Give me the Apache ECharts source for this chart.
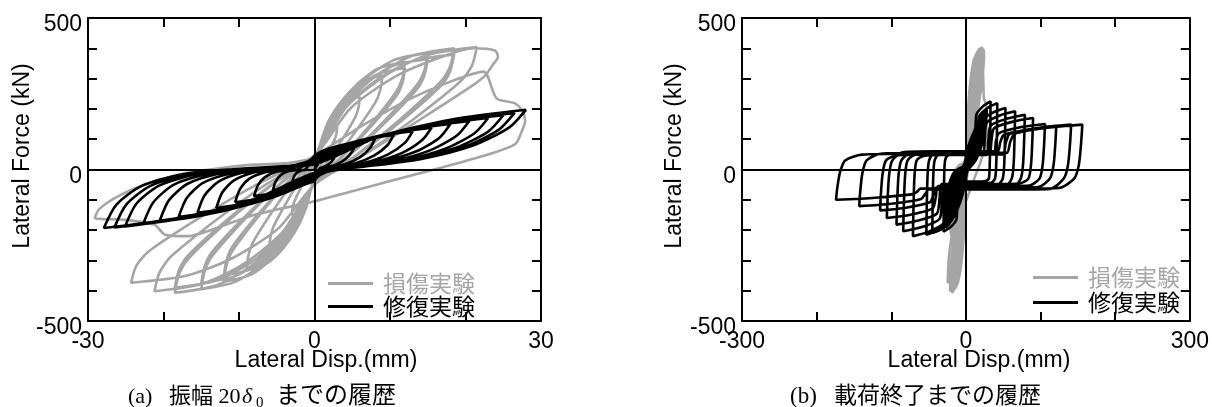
<!DOCTYPE html>
<html><head><meta charset="utf-8">
<script src="https://cdn.jsdelivr.net/npm/echarts@6/dist/echarts.min.js"></script>
<style>html,body{margin:0;padding:0;background:#fff}#c{width:1212px;height:407px}</style>
</head><body><div id="c"></div>
<script>
// ---- data (lateral disp mm, lateral force kN) ----
const seriesNames = ['損傷実験', '修復実験'];
const xLabelsA = [-30, 0, 30];
const xLabelsB = [-300, 0, 300];
const yLabels = [-500, 0, 500];

// 損傷実験 (damage test, up to 20δ0)
const damage = [
[0,0],
[0.6,63],[1.35,105],[2.1,130],[3,140],[2.91,119],[2.7,101],[1.8,56],[0.9,17],[0,-17],
[-0.6,-77],[-1.35,-117],[-2.1,-141],[-3,-150],[-2.91,-128],[-2.7,-108],[-1.8,-60],[-0.9,-18],[0,18],
[1.2,118],[2.7,185],[4.2,225],[6,240],[5.82,204],[5.4,173],[3.6,96],[1.8,29],[0,-29],
[-1.2,-133],[-2.7,-202],[-4.2,-244],[-6,-260],[-5.82,-221],[-5.4,-187],[-3.6,-104],[-1.8,-31],[0,31],
[1.8,157],[4.05,240],[6.3,291],[9,310],[8.73,264],[8.1,223],[5.4,124],[2.7,37],[0,-37],
[-1.8,-169],[-4.05,-257],[-6.3,-310],[-9,-330],[-8.73,-281],[-8.1,-238],[-5.4,-132],[-2.7,-40],[0,40],
[2.4,182],[5.4,276],[8.4,333],[12,355],[11.64,302],[10.8,256],[7.2,142],[3.6,43],[0,-43],
[-2.4,-190],[-5.4,-288],[-8.4,-347],[-12,-370],[-11.64,-315],[-10.8,-266],[-7.2,-148],[-3.6,-44],[0,44],
[2.4,175],[5.4,262],[8.4,315],[12,335],[11.64,285],[10.8,241],[7.2,134],[3.6,40],[0,-45],
[-2.4,-182],[-5.4,-274],[-8.4,-329],[-12,-350],[-11.64,-298],[-10.8,-252],[-7.2,-140],[-3.6,-42],[0,44],
[3,198],[6.75,300],[10.5,361],[15,385],[14.55,327],[13.5,277],[9,154],[4.5,46],[0,-46],
[-3,-203],[-6.75,-308],[-10.5,-371],[-15,-395],[-14.55,-336],[-13.5,-284],[-9,-158],[-4.5,-47],[0,47],
[3,190],[6.75,286],[10.5,343],[15,365],[14.55,310],[13.5,263],[9,146],[4.5,44],[0,-47],
[-3,-195],[-6.75,-293],[-10.5,-352],[-15,-375],[-14.55,-319],[-13.5,-270],[-9,-150],[-4.5,-45],[0,47],
[3.7,206],[8.33,312],[12.95,375],[18.5,400],[17.95,340],[16.65,288],[11.1,160],[5.55,48],[0,-48],
[-3.7,-210],[-8.33,-317],[-12.95,-382],[-18.5,-407],[-17.95,-346],[-16.65,-293],[-11.1,-163],[-5.55,-49],[0,48],
[3.7,197],[8.33,297],[12.95,357],[18.5,380],[17.95,323],[16.65,274],[11.1,152],[5.55,46],[0,-48],
[-3.7,-202],[-8.33,-305],[-12.95,-366],[-18.5,-390],[-17.95,-332],[-16.65,-281],[-11.1,-156],[-5.55,-47],[0,48],
[4.3,208],[9.68,315],[15.05,379],[21.5,404],[20.86,343],[19.35,291],[12.9,162],[6.45,49],[0,-48],
[-4.24,-207],[-9.54,-314],[-14.84,-377],[-21.2,-402],[-20.56,-342],[-19.08,-289],[-12.72,-161],[-6.36,-48],[0,45],
[4.8,203],[10.8,308],[16.8,371],[21,400],[23.9,393],[24.3,372],[23.6,345],[22.6,310],[20.5,270],[14,165],[7,55],[0,-50],
[-4.86,-196],[-10.9,-293],[-17,-351],[-24.3,-374],[-23.6,-318],[-21.9,-269],[-14.6,-150],[-7.3,-45],[0,45],
[6,140],[12,225],[18,290],[22.4,323],[24.1,235],[26.5,219],[27.5,195],[27.9,160],[27.6,135],[26.5,82],[19.9,27],[13.2,-17],[6.6,-61],[0,-105],
[-7.9,-149],[-12.3,-187],[-16.8,-220],[-19.8,-215],[-21.2,-182],[-25.6,-165],[-29.1,-160],[-28.5,-130],[-25.6,-83],[-21.2,-39],[-16.8,-11],[-12.3,5],[-7.9,16],[-3.5,21],[0,38]
];

// 修復実験 (repair test) cycles up to 20δ0
const repair20 = [
[0,0],[0.9,32],[1.95,53],[3,65],[2.76,46],[2.25,26],[1.5,11],[0.66,3],[0,-38],
[-0.9,-44],[-1.95,-48],[-3,-50],[-2.82,-30],[-2.46,-14],[-1.86,-4],[-1.2,0],[0,45],
[1.65,67],[3.58,80],[5.5,88],[5.06,62],[4.13,35],[2.75,15],[1.21,4],[0,-36],
[-1.65,-52],[-3.58,-62],[-5.5,-68],[-5.17,-41],[-4.51,-19],[-3.41,-5],[-2.2,0],[0,42],
[2.4,72],[5.2,90],[8,101],[7.36,71],[6,40],[4,17],[1.76,4],[0,-33],
[-2.4,-61],[-5.2,-78],[-8,-88],[-7.52,-53],[-6.56,-25],[-4.96,-7],[-3.2,0],[0,38],
[3.15,76],[6.83,100],[10.5,114],[9.66,80],[7.88,46],[5.25,19],[2.31,5],[0,-30],
[-3.15,-69],[-6.83,-94],[-10.5,-108],[-9.87,-65],[-8.61,-30],[-6.51,-9],[-4.2,0],[0,35],
[3.9,81],[8.45,110],[13,126],[11.96,88],[9.75,50],[6.5,21],[2.86,5],[0,-27],
[-3.9,-77],[-8.45,-109],[-13,-127],[-12.22,-76],[-10.66,-36],[-8.06,-10],[-5.2,0],[0,32],
[4.65,85],[10.08,119],[15.5,138],[14.26,97],[11.63,55],[7.75,24],[3.41,6],[0,-24],
[-4.65,-84],[-10.08,-122],[-15.5,-143],[-14.57,-86],[-12.71,-40],[-9.61,-11],[-6.2,0],[0,29],
[5.4,90],[11.7,128],[18,150],[16.56,105],[13.5,60],[9,26],[3.96,6],[0,-21],
[-5.4,-89],[-11.7,-133],[-18,-157],[-16.92,-94],[-14.76,-44],[-11.16,-13],[-7.2,0],[0,26],
[6.15,93],[13.33,136],[20.5,160],[18.86,112],[15.38,64],[10.25,27],[4.51,6],[0,-19],
[-6.15,-94],[-13.33,-142],[-20.5,-169],[-19.27,-101],[-16.81,-47],[-12.71,-14],[-8.2,0],[0,23],
[6.9,97],[14.95,144],[23,170],[21.16,119],[17.25,68],[11.5,29],[5.06,7],[0,-17],
[-6.81,-99],[-14.76,-151],[-22.7,-180],[-21.34,-108],[-18.61,-50],[-14.07,-14],[-9.08,0],[0,21],
[7.5,100],[16.25,151],[25,179],[23,125],[18.75,72],[12.5,30],[5.5,7],[0,-15],
[-7.53,-102],[-16.32,-157],[-25.1,-188],[-23.59,-113],[-20.58,-53],[-15.56,-15],[-10.04,0],[0,19],
[7.95,103],[17.23,157],[26.5,187],[24.38,131],[19.88,75],[13.25,32],[5.83,8],[0,-13],
[-7.95,-102],[-17.23,-159],[-26.5,-191],[-24.91,-115],[-21.73,-54],[-16.43,-15],[-10.6,0],[0,17],
[8.4,107],[18.2,165],[28,197],[25.76,138],[21,79],[14,34],[6.16,8],[0,-11],
[-8.37,-102],[-18.14,-160],[-27.9,-193],[-26.23,-116],[-22.88,-54],[-17.3,-15],[-11.16,0],[0,16]
];

// 修復実験 later cycles until end of loading
const repairLarge = [
[11.6,50],[12.5,95],[13.9,180],[23.1,209],[33,225],[32.7,135],[32,22],[30.7,-30],[26.4,-38],[13.2,-40],[0,-40],
[-10.5,-40],[-11.4,-95],[-12.6,-164],[-21,-191],[-30,-205],[-29.7,-123],[-29.1,-20],[-27.9,30],[-24,47],[-12,50],[0,50],
[14.7,50],[16,95],[17.6,175],[29.4,204],[42,219],[41.6,131],[40.7,22],[39,-30],[33.6,-44],[16.8,-46],[0,-46],
[-15.8,-46],[-17.1,-95],[-18.9,-168],[-31.5,-195],[-45,-210],[-44.6,-126],[-43.7,-21],[-41.9,30],[-36,51],[-18,54],[0,54],
[18.6,54],[20.1,95],[22.3,162],[37.1,189],[53,203],[52.5,122],[51.4,20],[49.3,-30],[42.4,-50],[21.2,-52],[0,-52],
[-18.6,-52],[-20.1,-95],[-22.3,-172],[-37.1,-200],[-53,-215],[-52.5,-129],[-51.4,-21],[-49.3,30],[-42.4,55],[-21.2,58],[0,58],
[23.1,58],[25.1,95],[27.7,154],[46.2,179],[66,192],[65.3,115],[64,19],[61.4,-30],[52.8,-56],[26.4,-58],[0,-58],
[-24.9,-58],[-27,-95],[-29.8,-176],[-49.7,-205],[-71,-220],[-70.3,-132],[-68.9,-22],[-66,30],[-56.8,45],[-28.4,48],[0,48],
[27.7,48],[30,95],[33.2,145],[55.3,168],[79,181],[78.2,109],[76.6,18],[73.5,-30],[63.2,-60],[31.6,-62],[0,-62],
[-29.4,-62],[-31.9,-95],[-35.3,-163],[-58.8,-190],[-84,-204],[-83.2,-122],[-81.5,-20],[-78.1,30],[-67.2,50],[-33.6,53],[0,53],
[31.5,53],[34.2,95],[37.8,136],[63,158],[90,170],[89.1,102],[87.3,17],[83.7,-30],[72,-46],[36,-48],[0,-48],
[-32.6,-48],[-35.3,-95],[-39,-146],[-65.1,-169],[-93,-182],[-92.1,-109],[-90.2,-18],[-86.5,30],[-74.4,54],[-37.2,57],[0,57],
[37.1,57],[40.3,95],[44.5,120],[74.2,140],[106,150],[104.9,90],[102.8,15],[98.6,-30],[84.8,-53],[42.4,-55],[0,-55],
[-37.1,-55],[-40.3,-90],[-44.5,-128],[-74.2,-149],[-106,-160],[-104.9,-96],[-102.8,-16],[-98.6,30],[-84.8,57],[-42.4,60],[0,60],
[42.4,60],[46,90],[50.8,114],[84.7,132],[121,142],[119.8,85],[117.4,14],[112.5,-30],[96.8,-58],[48.4,-60],[0,-60],
[-40.3,-60],[-43.7,-85],[-48.3,-108],[-80.5,-126],[-115,-135],[-113.9,-81],[-111.6,-14],[-107,30],[-92,47],[-46,50],[0,50],
[49.4,50],[53.6,90],[59.2,118],[98.7,138],[141,148],[139.6,89],[136.8,15],[131.1,-30],[112.8,-64],[56.4,-66],[0,-66],
[-50,-66],[-54.3,-80],[-60,-97],[-100.1,-113],[-143,-121],[-141.6,-73],[-138.7,-12],[-133,30],[-114.4,52],[-57.2,55],[0,55],
[54.6,55],[59.3,90],[65.5,118],[109.2,138],[156,148],[154.4,89],[151.3,15],[145,-30],[124.8,-61],[62.4,-63],[0,-63],
[-60.9,-63],[-66.1,-75],[-73.1,-82],[-121.8,-93],[-174,-100],[-172.3,-60],[-168.8,-10],[-161.8,30],[-139.2,49],[-69.6,52],[0,52]
];

// ---- chart ----
const GRAY = '#a5a5a5';
const SANS = "'Liberation Sans', Arial, sans-serif";
const SERIF = "'Liberation Serif', 'Noto Sans CJK JP', serif";
const CJK = "'Noto Sans CJK JP', sans-serif";
const FS = 23;

function xAxes(gridIndex, min, max, interval, labels) {
  const base = {type:'value', gridIndex, min, max, interval, splitLine:{show:false},
    axisLine:{show:true, onZero:false, lineStyle:{color:'#000', width:2}},
    axisTick:{show:true, inside:true, length:9, lineStyle:{color:'#000', width:2}}};
  return [
    Object.assign({}, base, {position:'bottom', axisLabel:{show:true, color:'#000', fontSize:FS, fontFamily:SANS, margin:9,
      formatter: v => labels.includes(v) ? String(v) : ''}}),
    Object.assign({}, base, {position:'top', axisLabel:{show:false}})
  ];
}
function yAxes(gridIndex, min, max, interval, labels) {
  const base = {type:'value', gridIndex, min, max, interval, splitLine:{show:false},
    axisLine:{show:true, onZero:false, lineStyle:{color:'#000', width:2}},
    axisTick:{show:true, inside:true, length:9, lineStyle:{color:'#000', width:2}}};
  return [
    Object.assign({}, base, {position:'left', axisLabel:{show:true, color:'#000', fontSize:FS, fontFamily:SANS, margin:6,
      verticalAlign:'top', lineHeight:14, formatter: v => labels.includes(v) ? String(v) : ''}}),
    Object.assign({}, base, {position:'right', axisLabel:{show:false}})
  ];
}
function lineSeries(name, color, data, xi, yi, withZero) {
  const s = {name, type:'line', data, xAxisIndex:xi, yAxisIndex:yi, showSymbol:false, symbol:'none',
    smooth:0.25, lineStyle:{color, width:2.6}, itemStyle:{color}, animation:false, silent:true};
  if (withZero) {
    s.markLine = {silent:true, symbol:['none','none'], label:{show:false}, animation:false,
      lineStyle:{color:'#000', width:2, type:'solid'}, data:[{xAxis:0},{yAxis:0}]};
  }
  return s;
}
function legend(left, top, gap) {
  return {left, top, orient:'vertical', icon:'rect', itemWidth:45, itemHeight:3, itemGap:gap, selectedMode:false,
    textStyle:{fontSize:FS, fontFamily:CJK, lineHeight:22, padding:[0,0,0,5]},
    data:[{name:seriesNames[0], textStyle:{color:GRAY}}, {name:seriesNames[1], textStyle:{color:'#000'}}]};
}
function txt(x, y, text, opts) {
  return Object.assign({type:'text', x, y, silent:true,
    style:Object.assign({text, fill:'#000', fontSize:FS, fontFamily:SANS, align:'center', verticalAlign:'middle'}, opts && opts.style)},
    opts && opts.el);
}

const chart = echarts.init(document.getElementById('c'), null, {renderer:'canvas'});
chart.setOption({
  animation:false,
  backgroundColor:'#fff',
  grid:[{left:88, top:18, width:453, height:303}, {left:742, top:18, width:454, height:303}],
  xAxis:[...xAxes(0,-30,30,10,xLabelsA), ...xAxes(1,-300,300,100,xLabelsB)],
  yAxis:[...yAxes(0,-500,500,100,yLabels), ...yAxes(1,-500,500,100,yLabels)],
  legend:[legend(323,267,0), legend(1028,261,2)],
  series:[
    lineSeries(seriesNames[0], GRAY, damage, 0, 0, true),
    lineSeries(seriesNames[1], '#000', repair20, 0, 0, false),
    lineSeries(seriesNames[0], GRAY, damage, 2, 2, true),
    lineSeries(seriesNames[1], '#000', repair20.concat(repairLarge), 2, 2, false)
  ],
  graphic:[
    txt(23, 156, 'Lateral Force (kN)', {el:{rotation:Math.PI/2}}),
    txt(675, 156, 'Lateral Force (kN)', {el:{rotation:Math.PI/2}}),
    txt(326, 361, 'Lateral Disp.(mm)'),
    txt(979, 361, 'Lateral Disp.(mm)'),
    txt(128, 397, '(a)   振幅 20', {style:{align:'left', fontSize:22, fontFamily:SERIF}}),
    txt(242, 397, 'δ', {style:{align:'left', fontSize:22, fontFamily:SERIF, fontStyle:'italic'}}),
    txt(256, 403, '0', {style:{align:'left', fontSize:15, fontFamily:SERIF}}),
    txt(276, 397, 'までの履歴', {style:{align:'left', fontSize:24, fontFamily:SERIF}}),
    txt(790, 397, '(b)   載荷終了までの履歴', {style:{align:'left', fontSize:23, fontFamily:SERIF}})
  ]
});
</script></body></html>
